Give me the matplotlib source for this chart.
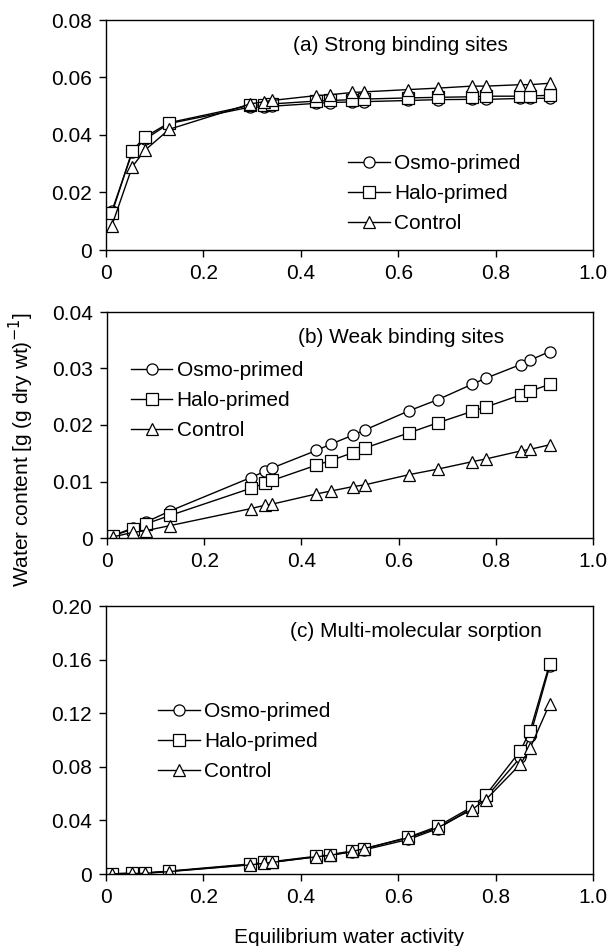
import matplotlib
matplotlib.use("Agg")
import matplotlib.pyplot as plt

plt.rcParams['font.family'] = ['Liberation Sans', 'DejaVu Sans']

aw = [0.012, 0.054, 0.08, 0.13, 0.296, 0.325, 0.34, 0.431, 0.46, 0.506, 0.53,
      0.621, 0.681, 0.751, 0.78, 0.851, 0.871, 0.911]

series_names = ["Osmo-primed", "Halo-primed", "Control"]

strong_osmo = [0.0135, 0.0340, 0.0385, 0.0440, 0.0497, 0.0497, 0.0500, 0.0510, 0.0513,
               0.0515, 0.0516, 0.0520, 0.0523, 0.0524, 0.0524, 0.0527, 0.0527, 0.0528]
strong_halo = [0.0127, 0.0346, 0.0393, 0.0443, 0.0503, 0.0505, 0.0508, 0.0518, 0.0520,
               0.0523, 0.0525, 0.0529, 0.0531, 0.0533, 0.0535, 0.0535, 0.0536, 0.0538]
strong_ctrl = [0.0085, 0.0290, 0.0347, 0.0420, 0.0508, 0.0516, 0.0520, 0.0537, 0.0540,
               0.0548, 0.0550, 0.0558, 0.0563, 0.0570, 0.0570, 0.0575, 0.0575, 0.0580]

weak_osmo = [0.0004, 0.0018, 0.0028, 0.0048, 0.0107, 0.0118, 0.0124, 0.0155, 0.0166,
             0.0182, 0.0191, 0.0225, 0.0245, 0.0272, 0.0283, 0.0307, 0.0315, 0.0330]
weak_halo = [0.0004, 0.0016, 0.0025, 0.0040, 0.0088, 0.0097, 0.0102, 0.0129, 0.0137,
             0.0151, 0.0159, 0.0186, 0.0204, 0.0224, 0.0232, 0.0253, 0.0260, 0.0272]
weak_ctrl = [0.0002, 0.0010, 0.0013, 0.0022, 0.0052, 0.0058, 0.0060, 0.0078, 0.0083,
             0.0091, 0.0094, 0.0112, 0.0122, 0.0135, 0.0140, 0.0154, 0.0157, 0.0165]

multi_osmo = [0.0002, 0.0005, 0.0007, 0.0020, 0.0070, 0.0082, 0.0088, 0.0128, 0.0140,
              0.0165, 0.0180, 0.0258, 0.0338, 0.0490, 0.0570, 0.0870, 0.1030, 0.1550]
multi_halo = [0.0002, 0.0006, 0.0008, 0.0022, 0.0075, 0.0086, 0.0092, 0.0132, 0.0145,
              0.0172, 0.0188, 0.0275, 0.0355, 0.0500, 0.0590, 0.0920, 0.1070, 0.1570]
multi_ctrl = [0.0001, 0.0004, 0.0005, 0.0018, 0.0068, 0.0080, 0.0086, 0.0128, 0.0140,
              0.0168, 0.0190, 0.0270, 0.0345, 0.0480, 0.0555, 0.0820, 0.0940, 0.1270]

x_ticks = [0, 0.2, 0.4, 0.6, 0.8, 1.0]
x_ticklabels = ["0", "0.2", "0.4", "0.6", "0.8", "1.0"]
a_yticks = [0, 0.02, 0.04, 0.06, 0.08]
a_yticklabels = ["0", "0.02", "0.04", "0.06", "0.08"]
b_yticks = [0, 0.01, 0.02, 0.03, 0.04]
b_yticklabels = ["0", "0.01", "0.02", "0.03", "0.04"]
c_yticks = [0, 0.04, 0.08, 0.12, 0.16, 0.20]
c_yticklabels = ["0", "0.04", "0.08", "0.12", "0.16", "0.20"]

titles = ["(a) Strong binding sites", "(b) Weak binding sites", "(c) Multi-molecular sorption"]

W, H = 611, 946
fig = plt.figure(figsize=(W / 100, H / 100), dpi=100)

def rect(l, r, t, b):
    return [l / W, 1 - b / H, (r - l) / W, (b - t) / H]

axes = [fig.add_axes(rect(106, 593, 20, 250)),
        fig.add_axes(rect(107, 593, 312, 538)),
        fig.add_axes(rect(106, 593, 606, 874))]

markers = ["o", "s", "^"]
FS = 15

panels = [
    (axes[0], [strong_osmo, strong_halo, strong_ctrl], a_yticks, a_yticklabels,
     (0.604, 0.89), dict(loc="upper left", bbox_to_anchor=(0.497, 0.417))),
    (axes[1], [weak_osmo, weak_halo, weak_ctrl], b_yticks, b_yticklabels,
     (0.605, 0.889), dict(loc="upper left", bbox_to_anchor=(0.049, 0.783))),
    (axes[2], [multi_osmo, multi_halo, multi_ctrl], c_yticks, c_yticklabels,
     (0.637, 0.903), dict(loc="upper left", bbox_to_anchor=(0.107, 0.642))),
]

for i, (ax, ys, yt, ytl, tpos, legkw) in enumerate(panels):
    for y, m, name in zip(ys, markers, series_names):
        ax.plot(aw, y, color="black", lw=1.0, marker=m, markersize=8,
                markerfacecolor="white", markeredgecolor="black",
                markeredgewidth=0.9, label=name)
    ax.set_xlim(0, 1.0)
    ax.set_ylim(yt[0], yt[-1])
    ax.set_xticks(x_ticks)
    ax.set_xticklabels(x_ticklabels)
    ax.set_yticks(yt)
    ax.set_yticklabels(ytl)
    ax.tick_params(direction="out", length=5, width=1, labelsize=FS, pad=5,
                   top=False, right=False)
    for s in ax.spines.values():
        s.set_linewidth(1)
    ax.text(tpos[0], tpos[1], titles[i], transform=ax.transAxes, ha="center",
            va="center", fontsize=FS)
    ax.legend(frameon=False, fontsize=FS, handlelength=2.0, handletextpad=0.2,
              labelspacing=0.53, borderaxespad=0, borderpad=0, **legkw)

fig.text(21 / W, 1 - 450 / H, "Water content [g (g dry wt)$^{-1}$]", rotation=90,
         ha="center", va="center", fontsize=FS)
fig.text(349 / W, 1 - 937 / H, "Equilibrium water activity", ha="center",
         va="center", fontsize=FS)

fig.savefig("out.png", dpi=100)
